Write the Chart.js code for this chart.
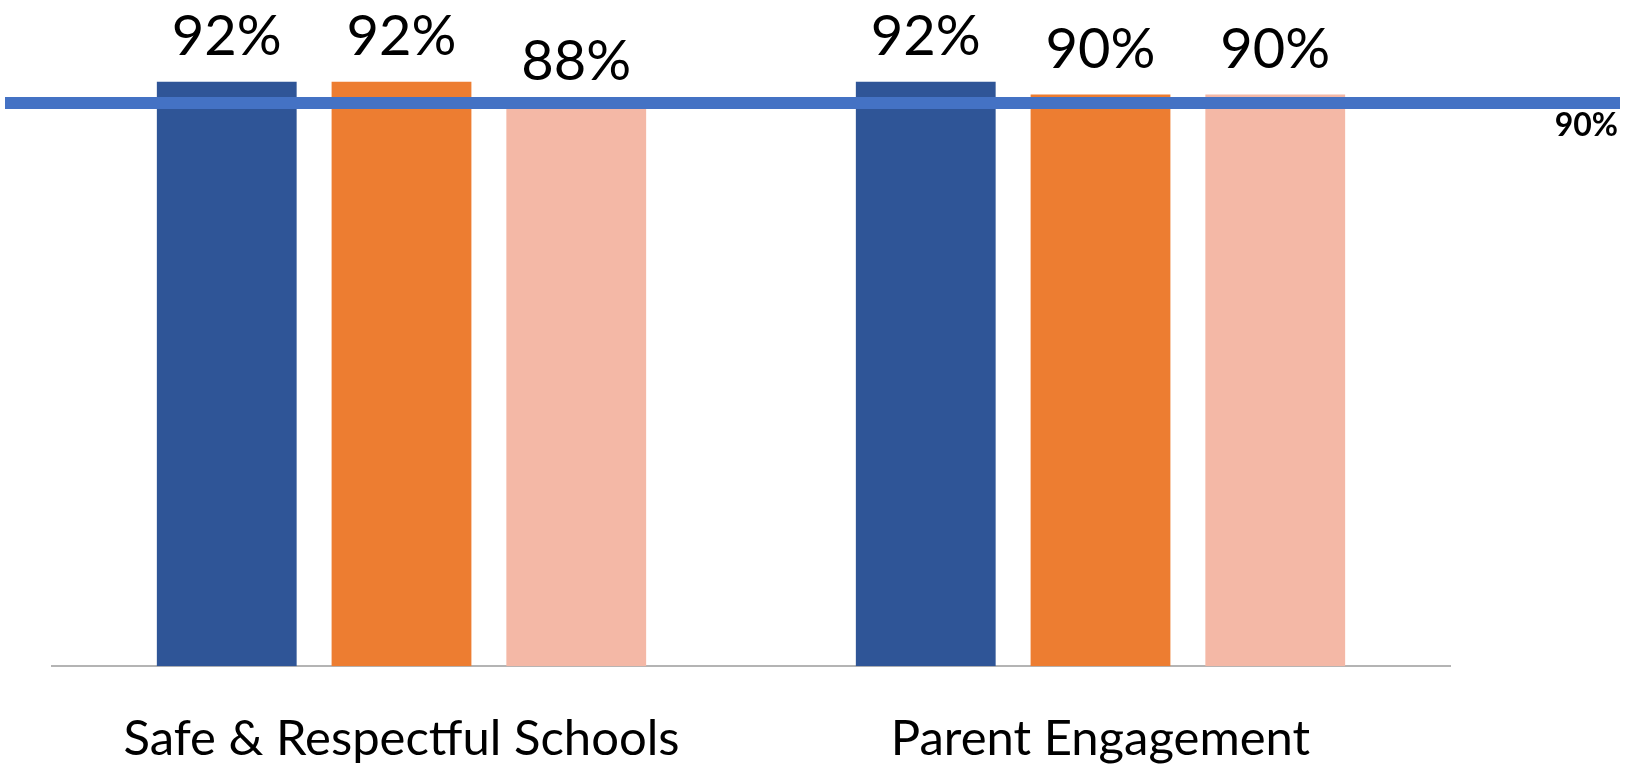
<!DOCTYPE html>
<html>
<head>
<meta charset="utf-8">
<script src="https://cdn.jsdelivr.net/npm/chart.js@4/dist/chart.umd.min.js"></script>
<style>
  html, body { margin: 0; padding: 0; background: #ffffff; }
  #wrap { width: 1633px; height: 764px; }
</style>
</head>
<body>
<div id="wrap"><canvas id="barChart" width="1633" height="764"></canvas></div>
<script>
// categories and survey results (percent)
const categorias = ['Safe & Respectful Schools', 'Parent Engagement'];
const serie1 = [92, 92];
const serie2 = [92, 90];
const serie3 = [88, 90];
const meta = 90;

const colores = ['#2F5597', '#ED7D31', '#F4B8A6'];
const FUENTE = "Lato, 'Open Sans', sans-serif";

// percent labels on top of each bar
const etiquetasBarras = {
  id: 'etiquetasBarras',
  afterDatasetsDraw(chart) {
    const ctx = chart.ctx;
    ctx.save();
    ctx.font = '56px ' + FUENTE;
    ctx.fillStyle = '#000000';
    ctx.textAlign = 'center';
    ctx.textBaseline = 'alphabetic';
    chart.data.datasets.forEach(function(ds, i) {
      chart.getDatasetMeta(i).data.forEach(function(bar, j) {
        ctx.fillText(ds.data[j] + '%', bar.x, bar.y - 27);
      });
    });
    ctx.restore();
  }
};

// target line across the whole chart, on the secondary axis
const lineaMeta = {
  id: 'lineaMeta',
  afterDraw(chart) {
    const ctx = chart.ctx;
    const y = chart.scales.y2.getPixelForValue(meta);
    ctx.save();
    ctx.strokeStyle = '#4472C4';
    ctx.lineWidth = 12;
    ctx.beginPath();
    ctx.moveTo(5, y);
    ctx.lineTo(chart.width - 13, y);
    ctx.stroke();

    ctx.font = 'bold 32px ' + FUENTE;
    ctx.fillStyle = '#000000';
    ctx.textAlign = 'right';
    ctx.fillText(meta + '%', chart.width - 15, y + 33);
    ctx.restore();
  }
};

const ctx = document.getElementById('barChart').getContext('2d');

const myBarChart = new Chart(ctx, {
  type: 'bar',
  data: {
    labels: categorias,
    datasets: [
      { label: 'Serie 1', data: serie1, backgroundColor: colores[0] },
      { label: 'Serie 2', data: serie2, backgroundColor: colores[1] },
      { label: 'Serie 3', data: serie3, backgroundColor: colores[2] }
    ]
  },
  options: {
    responsive: false,
    animation: false,
    categoryPercentage: 0.75,
    barPercentage: 0.8,
    layout: {
      padding: { top: 31, left: 52, right: 183, bottom: -49 }
    },
    plugins: {
      legend: { display: false },
      tooltip: { enabled: false }
    },
    scales: {
      x: {
        grid: { display: false, drawTicks: false },
        border: { display: true, color: '#B4B4B4', width: 2 },
        ticks: {
          color: '#000000',
          padding: 44,
          font: { family: FUENTE, size: 49 }
        }
      },
      y: {
        display: false,
        min: 0,
        max: 100
      },
      y2: {
        display: false,
        min: 0,
        max: 101.5
      }
    }
  },
  plugins: [etiquetasBarras, lineaMeta]
});
</script>
</body>
</html>
